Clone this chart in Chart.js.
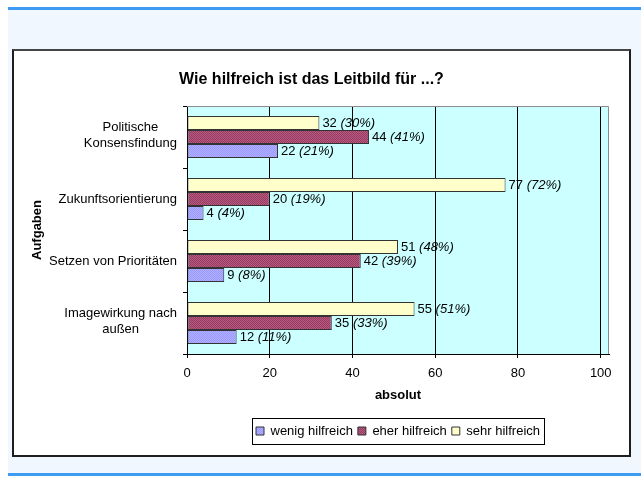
<!DOCTYPE html>
<html>
<head>
<meta charset="utf-8">
<script src="https://cdn.jsdelivr.net/npm/chart.js@4.4.0/dist/chart.umd.min.js"></script>
<style>
  html, body { margin: 0; padding: 0; background: #fff; }
  body { width: 641px; height: 477px; position: relative; overflow: hidden; }
  .panel { position: absolute; left: 8px; top: 7px; width: 633px; height: 463px; background: #f0f7fe; border-top: 3px solid #3d9bf3; border-bottom: 3px solid #3d9bf3; }
  .box { position: absolute; left: 12px; top: 49px; width: 615px; height: 404px; background: #fff; border: 2px solid #1e1e1e; border-top-color: #444; }
</style>
</head>
<body>
<div class="panel"></div>
<div class="box"><canvas id="chart"></canvas></div>
<script>
// categories (top to bottom) and series
const categories = [['Politische', 'Konsensfindung'], ['Zukunftsorientierung'], ['Setzen von Prioritäten'], ['Imagewirkung nach', 'außen']];
const seriesNames = ['wenig hilfreich', 'eher hilfreich', 'sehr hilfreich'];
const wenig = [22, 4, 9, 12];
const eher = [44, 20, 42, 35];
const sehr = [32, 77, 51, 55];
const wenigPct = [21, 4, 8, 11];
const eherPct = [41, 19, 39, 33];
const sehrPct = [30, 72, 48, 51];
const xTicks = [0, 20, 40, 60, 80, 100];

const FONT = '"Liberation Sans", Arial, sans-serif';

// small 2x2 dither, looks like the excel fill texture
function makePattern(a, b) {
  const c = document.createElement('canvas');
  c.width = 2; c.height = 2;
  const g = c.getContext('2d');
  g.fillStyle = a; g.fillRect(0, 0, 2, 2);
  g.fillStyle = b; g.fillRect(0, 0, 1, 1); g.fillRect(1, 1, 1, 1);
  return g.createPattern(c, 'repeat');
}

const plotBg = {
  id: 'plotBg',
  beforeDraw(chart) {
    const {ctx, chartArea: a} = chart;
    ctx.save();
    ctx.fillStyle = '#ccffff';
    ctx.fillRect(a.left, a.top, a.right - a.left, a.bottom - a.top);
    ctx.restore();
  },
  beforeDatasetsDraw(chart) {
    const {ctx, chartArea: a} = chart;
    ctx.save();
    ctx.strokeStyle = '#8c8c8c';
    ctx.lineWidth = 1;
    ctx.beginPath();
    ctx.moveTo(a.left, a.top + 0.5);
    ctx.lineTo(a.right - 0.5, a.top + 0.5);
    ctx.lineTo(a.right - 0.5, a.bottom);
    ctx.stroke();
    ctx.restore();
  }
};

// "32 (30%)" labels, number upright and percent italic
const valueLabels = {
  id: 'valueLabels',
  afterDatasetsDraw(chart) {
    const ctx = chart.ctx;
    ctx.save();
    ctx.fillStyle = '#000';
    ctx.textBaseline = 'middle';
    ctx.textAlign = 'left';
    chart.data.datasets.forEach((ds, di) => {
      chart.getDatasetMeta(di).data.forEach((bar, i) => {
        const x = bar.x + 3;
        const first = ds.data[i] + ' ';
        ctx.font = '13px ' + FONT;
        ctx.fillText(first, x, bar.y);
        const w = ctx.measureText(first).width;
        ctx.font = 'italic 13px ' + FONT;
        ctx.fillText('(' + ds.pct[i] + '%)', x + w, bar.y);
      });
    });
    ctx.restore();
  }
};

// category labels: block right aligned, lines centred inside it
const categoryLabels = {
  id: 'categoryLabels',
  afterDraw(chart) {
    const ctx = chart.ctx;
    const y = chart.scales.y;
    ctx.save();
    ctx.font = '13px ' + FONT;
    ctx.fillStyle = '#000';
    ctx.textAlign = 'center';
    ctx.textBaseline = 'middle';
    chart.data.labels.forEach((lines, i) => {
      const cy = y.getPixelForValue(i);
      const bw = Math.max(...lines.map(l => ctx.measureText(l).width));
      const cx = y.right - 10 - bw / 2;
      lines.forEach((l, j) => {
        ctx.fillText(l, cx, cy + (j - (lines.length - 1) / 2) * 16 - (lines.length > 1 ? 1.5 : 0));
      });
    });
    ctx.restore();
  }
};

const legendFrame = {
  id: 'legendFrame',
  afterDraw(chart) {
    const lg = chart.legend;
    if (!lg || !lg.legendHitBoxes.length) return;
    const hb = lg.legendHitBoxes;
    const left = Math.min(...hb.map(h => h.left)) - 4;
    const right = Math.max(...hb.map(h => h.left + h.width)) + 4;
    const cy = hb[0].top + hb[0].height / 2;
    const ctx = chart.ctx;
    ctx.save();
    ctx.strokeStyle = '#000';
    ctx.lineWidth = 1;
    ctx.strokeRect(Math.round(left) + 0.5, Math.round(cy - 13) + 0.5, Math.round(right - left), 26);
    ctx.restore();
  }
};

const chart = new Chart('chart', {
  type: 'bar',
  data: {
    labels: categories,
    datasets: [
      { label: seriesNames[2], data: sehr, pct: sehrPct, backgroundColor: '#ffffcc', borderColor: '#333', borderWidth: 1, borderSkipped: false },
      { label: seriesNames[1], data: eher, pct: eherPct, backgroundColor: makePattern('#9a3a62', '#b45c80'), borderColor: '#333', borderWidth: 1, borderSkipped: false },
      { label: seriesNames[0], data: wenig, pct: wenigPct, backgroundColor: makePattern('#9999ff', '#b0b0ff'), borderColor: '#333', borderWidth: 1, borderSkipped: false }
    ]
  },
  options: {
    indexAxis: 'y',
    responsive: true,
    maintainAspectRatio: false,
    animation: false,
    events: [],
    categoryPercentage: 0.68,
    barPercentage: 1,
    layout: { padding: { left: 0, right: 20, top: 0, bottom: 7.5 } },
    scales: {
      x: {
        min: 0,
        max: 102,
        afterBuildTicks: s => { s.ticks = xTicks.map(v => ({ value: v })); },
        afterFit: s => { s.height = 65.5; },
        grid: { color: '#000', tickColor: '#000', tickLength: 4 },
        border: { color: '#000' },
        ticks: { color: '#000', padding: 8, font: { family: FONT, size: 13 } },
        title: { display: true, text: 'absolut', color: '#000', padding: { top: 0, bottom: 18 }, font: { family: FONT, size: 13, weight: 'bold', lineHeight: 1 } }
      },
      y: {
        afterFit: s => { s.width = 173; },
        grid: { offset: true, drawOnChartArea: false, color: '#000', tickColor: '#000', tickLength: 4 },
        border: { color: '#000' },
        ticks: { display: false },
        title: { display: true, text: 'Aufgaben', color: '#000', padding: { top: 16.5, bottom: 0 }, font: { family: FONT, size: 13, weight: 'bold', lineHeight: 1 } }
      }
    },
    plugins: {
      title: { display: true, text: 'Wie hilfreich ist das Leitbild für ...?', color: '#000', padding: { top: 21, bottom: 18 }, font: { family: FONT, size: 16, weight: 'bold', lineHeight: 1 } },
      legend: {
        position: 'bottom',
        fullSize: false,
        reverse: true,
        labels: { color: '#000', boxWidth: 8, boxHeight: 8, padding: 5, font: { family: FONT, size: 13 } }
      },
      tooltip: { enabled: false }
    }
  },
  plugins: [plotBg, valueLabels, categoryLabels, legendFrame]
});
</script>
</body>
</html>
